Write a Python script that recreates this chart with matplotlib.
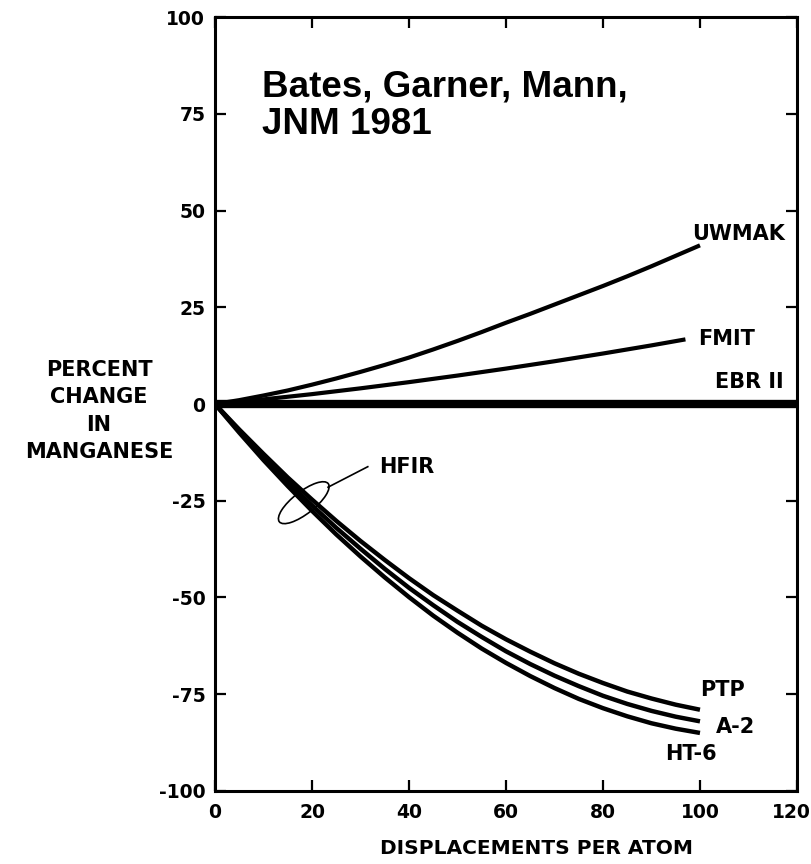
import numpy as np
import matplotlib
matplotlib.use("Agg")
import matplotlib.pyplot as plt
from matplotlib.patches import Ellipse
from matplotlib.transforms import ScaledTranslation

# percent change in manganese vs dpa, read per spectrum
dpa = [0, 5, 10, 15, 20, 25, 30, 35, 40, 45, 50,
       55, 60, 65, 70, 75, 80, 85, 90, 95, 100]
uwmak = [0, 1, 2.2, 3.5, 5, 6.6, 8.3, 10.1, 12, 14.1, 16.3,
         18.6, 21, 23.3, 25.7, 28.1, 30.5, 33, 35.6, 38.3, 41]
ptp = [0, -6.6, -12.9, -19.0, -24.7, -30.2, -35.4, -40.3, -45.0, -49.4, -53.4,
       -57.3, -60.8, -64.0, -67.0, -69.7, -72.1, -74.3, -76.1, -77.7, -79.0]
a2 = [0, -7.0, -13.7, -20.1, -26.2, -32.0, -37.4, -42.6, -47.5, -52.0, -56.3,
      -60.2, -63.9, -67.2, -70.2, -72.9, -75.4, -77.5, -79.3, -80.8, -82.0]
ht6 = [0, -7.4, -14.5, -21.2, -27.6, -33.7, -39.4, -44.8, -49.9, -54.7, -59.1,
       -63.2, -66.9, -70.3, -73.4, -76.2, -78.6, -80.7, -82.5, -83.9, -85.0]

fmit_dpa = [0, 10, 20, 30, 40, 50, 60, 70, 80, 90, 97]
fmit = [0, 1.2, 2.55, 4.05, 5.65, 7.35, 9.15, 11.05, 13.05, 15.15, 16.7]

ebr_dpa = [0, 120]
ebr = [0, 0]

xticks = [0, 20, 40, 60, 80, 100, 120]
yticks = [100, 75, 50, 25, 0, -25, -50, -75, -100]

fig = plt.figure(figsize=(8.12, 8.64), dpi=100)
ax = fig.add_axes([0.2648, 0.0845, 0.7167, 0.8958])

lbl = dict(family="DejaVu Sans", fontweight="bold", fontsize=15)

ax.plot(dpa, uwmak, color="black", lw=3.0, solid_capstyle="butt")
ax.plot(fmit_dpa, fmit, color="black", lw=3.0, solid_capstyle="butt")
ax.plot(ebr_dpa, ebr, color="black", lw=6.0, solid_capstyle="butt")
for s in (ptp, a2, ht6):
    ax.plot(dpa, s, color="black", lw=3.2, solid_capstyle="butt")

ax.set_xlim(0, 120)
ax.set_ylim(-100, 100)
ax.set_xticks(xticks)
ax.set_yticks(yticks)
ax.set_xticklabels([str(t) for t in xticks], fontsize=13.5, fontweight="bold")
ax.set_yticklabels([str(t) for t in yticks], fontsize=13.5, fontweight="bold")
ax.tick_params(direction="in", length=8, width=1.6, top=True, right=True)
ax.tick_params(axis="x", pad=9)
ax.tick_params(axis="y", pad=7)
for sp in ax.spines.values():
    sp.set_linewidth(2.2)

# keep the last x label inside the figure
last = ax.get_xticklabels()[-1]
last.set_transform(last.get_transform() +
                   ScaledTranslation(-6 / 100, 0, fig.dpi_scale_trans))

# curve names
ax.text(108, 44, "UWMAK", ha="center", va="center", **lbl)
ax.text(105.4, 16.8, "FMIT", ha="center", va="center", **lbl)
ax.text(110.2, 5.7, "EBR II", ha="center", va="center", **lbl)
ax.text(39.5, -16.3, "HFIR", ha="center", va="center", **lbl)
ax.text(104.6, -74, "PTP", ha="center", va="center", **lbl)
ax.text(107.3, -83.5, "A-2", ha="center", va="center", **lbl)
ax.text(98.2, -90.4, "HT-6", ha="center", va="center", **lbl)

# loop round the HFIR curves with its leader
lasso = Ellipse((0, 0), 0.62, 0.22, angle=38, fill=False, lw=1.2,
                color="black",
                transform=fig.dpi_scale_trans +
                ScaledTranslation(18.3, -25.5, ax.transData))
ax.add_patch(lasso)
ax.plot([23.3, 31.5], [-21.5, -16.2], color="black", lw=1.2)

ax.text(0.081, 0.932, "Bates, Garner, Mann,\nJNM 1981", transform=ax.transAxes,
        ha="left", va="top", fontsize=26.5, fontweight="bold",
        family="Liberation Sans", linespacing=1.08)

fig.text(99 / 812, 1 - 411 / 864, "PERCENT\nCHANGE\nIN\nMANGANESE",
         ha="center", va="center", linespacing=1.47, **lbl)
fig.text(537 / 812, 1 - 849 / 864, "DISPLACEMENTS PER ATOM",
         ha="center", va="center", family="DejaVu Sans", fontweight="bold",
         fontsize=14.5)

fig.savefig("out.png", dpi=100)
